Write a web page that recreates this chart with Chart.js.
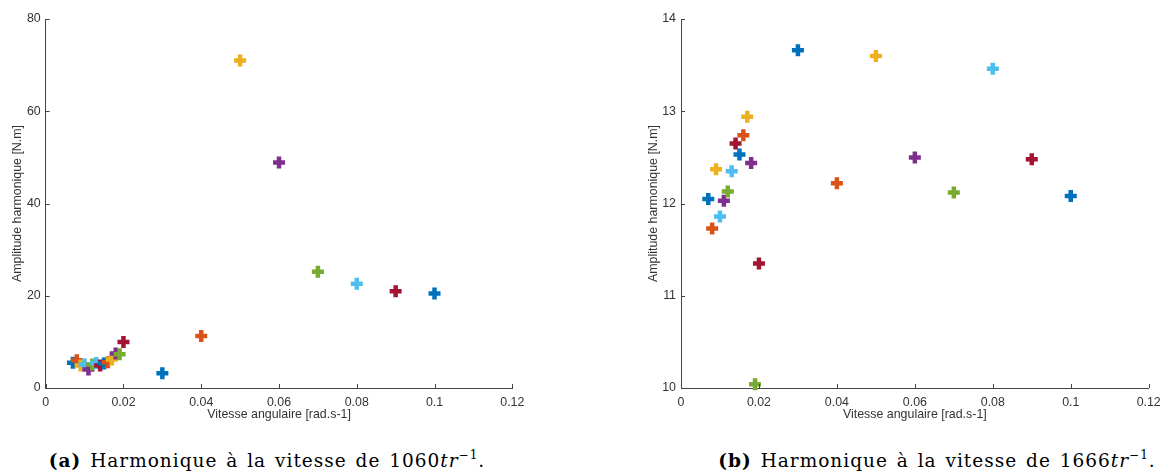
<!DOCTYPE html>
<html>
<head>
<meta charset="utf-8">
<script src="https://cdn.jsdelivr.net/npm/chart.js@4.4.0/dist/chart.umd.min.js"></script>
<style>
  body { margin: 0; background: #fff; width: 1161px; height: 473px; position: relative; overflow: hidden; }
  .plot { position: absolute; top: 0; }
  .caption { position: absolute; top: 452px; font-family: "DejaVu Serif", serif; font-size: 18.5px; color: #000;
             letter-spacing: 1px; word-spacing: 2px;
             white-space: nowrap; transform: translateX(-50%); line-height: 1; }
  .caption sup { font-size: 12px; vertical-align: 8px; line-height: 0; }
</style>
</head>
<body>
<canvas id="chart1060" class="plot" width="530" height="422" style="left:0px"></canvas>
<canvas id="chart1666" class="plot" width="525" height="422" style="left:636px"></canvas>
<div class="caption" style="left:267px"><b>(a)</b> Harmonique à la vitesse de 1060<i>tr</i><sup>−1</sup>.</div>
<div class="caption" style="left:937px"><b>(b)</b> Harmonique à la vitesse de 1666<i>tr</i><sup>−1</sup>.</div>
<script>
// angular speeds (rad/s) of each test point
const speeds = [0.007, 0.008, 0.009, 0.010, 0.011, 0.012, 0.013, 0.014, 0.015, 0.016, 0.017,
                0.018, 0.019, 0.020, 0.03, 0.04, 0.05, 0.06, 0.07, 0.08, 0.09, 0.1];

// harmonic amplitude at 1060 tr/min
const amp1060 = [5.5, 6.0, 4.9, 5.1, 4.0, 5.1, 5.4, 4.9, 5.3, 5.6, 6.2,
                 7.5, 7.3, 10.0, 3.2, 11.3, 71.0, 48.9, 25.2, 22.6, 21.0, 20.5];

// harmonic amplitude at 1666 tr/min
const amp1666 = [12.05, 11.73, 12.37, 11.86, 12.03, 12.13, 12.35, 12.65, 12.53, 12.74, 12.94,
                 12.44, 10.04, 11.35, 13.66, 12.22, 13.60, 12.50, 12.12, 13.46, 12.48, 12.08];

// matlab default colour order, as picked for each point
const pointColors = ['#0072BD', '#D95319', '#EDB120', '#4DBEEE', '#7E2F8E', '#77AC30', '#4DBEEE',
                     '#A2142F', '#0072BD', '#D95319', '#EDB120', '#7E2F8E', '#77AC30', '#A2142F',
                     '#0072BD', '#D95319', '#EDB120', '#7E2F8E', '#77AC30', '#4DBEEE', '#A2142F', '#0072BD'];

const xTicks = [0, 0.02, 0.04, 0.06, 0.08, 0.1, 0.12];
const xTickLabels = ['0', '0.02', '0.04', '0.06', '0.08', '0.1', '0.12'];
const yTicks1060 = [0, 20, 40, 60, 80];
const yTicks1666 = [10, 11, 12, 13, 14];

const axisColor = '#444';
const textColor = '#333';
const tickFont = { family: 'Liberation Sans, Arial, sans-serif', size: 12.4 };

// matlab style: ticks drawn inside the axes
const inwardTicks = {
    id: 'inwardTicks',
    afterDraw(chart) {
        const ctx = chart.ctx;
        const x = chart.scales.x, y = chart.scales.y;
        const len = 4;
        ctx.save();
        ctx.strokeStyle = axisColor;
        ctx.lineWidth = 1;
        ctx.beginPath();
        x.ticks.forEach(t => {
            const px = Math.round(x.getPixelForValue(t.value)) + 0.5;
            ctx.moveTo(px, y.bottom);
            ctx.lineTo(px, y.bottom - len);
        });
        y.ticks.forEach(t => {
            const py = Math.round(y.getPixelForValue(t.value)) + 0.5;
            ctx.moveTo(x.left, py);
            ctx.lineTo(x.left + len, py);
        });
        ctx.stroke();
        ctx.restore();
    }
};

function makeChart(id, amps, yTicks, yWidth, padRight) {
    const points = speeds.map((s, i) => ({ x: s, y: amps[i] }));
    return new Chart(document.getElementById(id), {
        type: 'scatter',
        data: {
            datasets: [{
                data: points,
                pointStyle: 'cross',
                pointRadius: 6,
                pointBorderWidth: 4.5,
                pointBorderColor: pointColors,
                pointBackgroundColor: pointColors,
                clip: false
            }]
        },
        options: {
            responsive: false,
            animation: false,
            devicePixelRatio: 1,
            events: [],
            layout: { padding: { left: 10, right: padRight, top: 19, bottom: 0 } },
            plugins: { legend: { display: false }, tooltip: { enabled: false } },
            scales: {
                x: {
                    type: 'linear',
                    min: xTicks[0],
                    max: xTicks[xTicks.length - 1],
                    afterBuildTicks: s => { s.ticks = xTicks.map(v => ({ value: v })); },
                    // fixed size, and no extra room for the end labels
                    afterFit: s => { s.height = 34; s.paddingLeft = 0; s.paddingRight = 0; },
                    border: { color: axisColor, width: 1 },
                    grid: { display: false, drawTicks: false },
                    ticks: {
                        color: textColor, font: tickFont, padding: 7, maxRotation: 0,
                        callback: (v, i) => xTickLabels[i]
                    },
                    title: {
                        display: true, text: 'Vitesse angulaire [rad.s-1]',
                        color: textColor, font: tickFont, padding: 0
                    }
                },
                y: {
                    type: 'linear',
                    min: yTicks[0],
                    max: yTicks[yTicks.length - 1],
                    afterBuildTicks: s => { s.ticks = yTicks.map(v => ({ value: v })); },
                    afterFit: s => { s.width = yWidth; s.paddingTop = 0; s.paddingBottom = 0; },
                    border: { color: axisColor, width: 1 },
                    grid: { display: false, drawTicks: false },
                    ticks: { color: textColor, font: tickFont, padding: 5 },
                    title: {
                        display: true, text: 'Amplitude harmonique [N.m]',
                        color: textColor, font: tickFont, padding: 0
                    }
                }
            }
        },
        plugins: [inwardTicks]
    });
}

makeChart('chart1060', amp1060, yTicks1060, 35.7, 17.7);
makeChart('chart1666', amp1666, yTicks1666, 35, 12.3);
</script>
</body>
</html>
